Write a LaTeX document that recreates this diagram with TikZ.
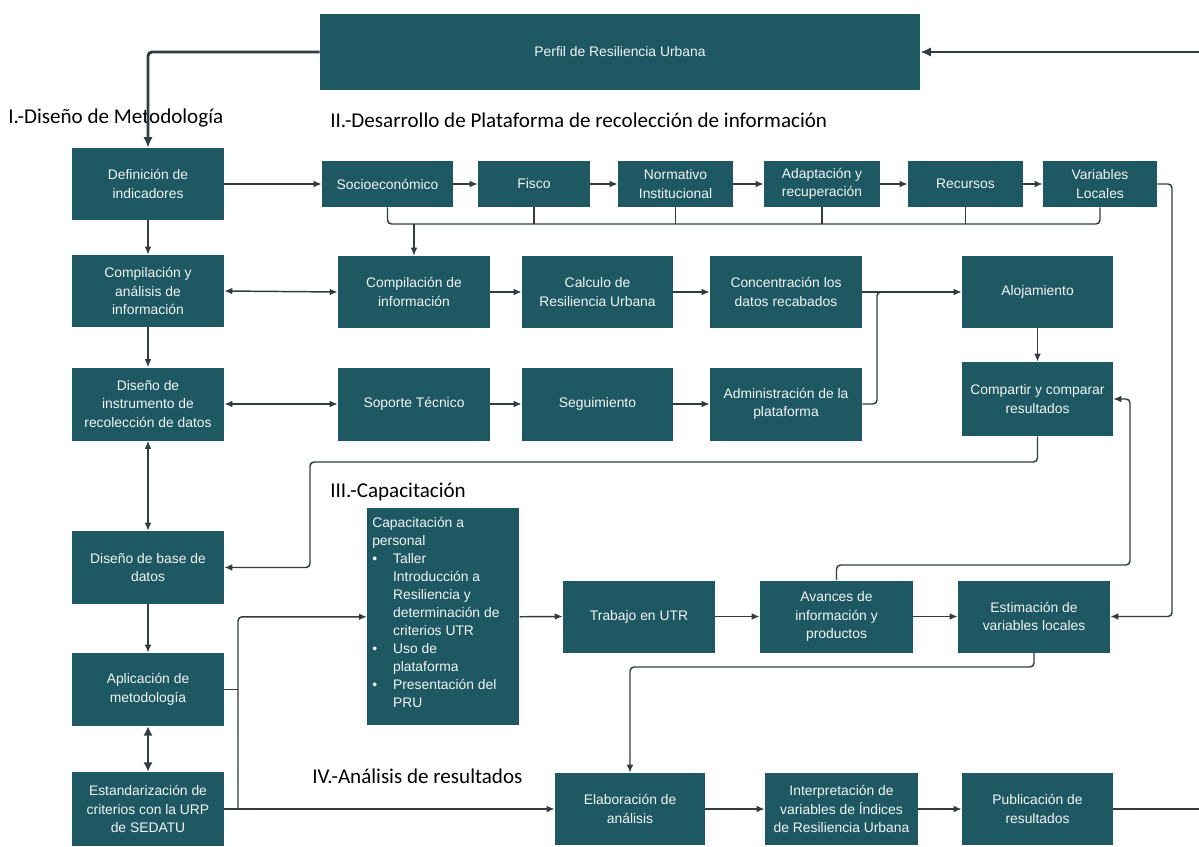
\documentclass[tikz,border=0pt]{standalone}
\usepackage{fontspec}
\setmainfont{Liberation Sans}
\newfontfamily\headfont{Carlito}
\usetikzlibrary{arrows.meta}
\definecolor{teal1}{RGB}{30,88,98}
\definecolor{lnc}{RGB}{48,60,64}
\newcommand\B[6]{\node[bx, minimum width=#4*0.75pt, minimum height=#5*0.75pt] (#1) at (#2,#3) {#6};}
\begin{document}
\begin{tikzpicture}[x=0.75pt,y=-0.75pt,
  bx/.style={fill=teal1, text=white!94!teal1, inner sep=1pt, align=center, font=\fontsize{10.4}{13.8}\selectfont},
  conn/.style={draw=lnc, line width=1.1pt, rounded corners=3pt},
  arr/.style={conn, -{Latex[length=6pt,width=5pt]}},
  dbl/.style={conn, {Latex[length=6pt,width=5pt]}-{Latex[length=6pt,width=5pt]}},
  thk/.style={draw=lnc, line width=2.2pt},
  thkarr/.style={thk, -{Latex[length=8pt,width=7pt]}},
  head/.style={font=\headfont\fontsize{15.8}{18}\selectfont, anchor=west, inner sep=0pt}]
\useasboundingbox (0,0) rectangle (1199,846);

% headings
\node[head] (h1) at (8,118) {I.-Diseño de Metodología};
\node[head] (h2) at (330,120) {II.-Desarrollo de Plataforma de recolección de información};
\node[head] (h3) at (330,492) {III.-Capacitación};
\node[head] (h4) at (312,776) {IV.-Análisis de resultados};

% top
\B{perfil}{620}{52}{600}{76}{Perfil de Resiliencia Urbana}

% left column
\B{def}{148}{184}{152}{72}{Definición de\\indicadores}
\B{comp1}{148}{291}{152}{72}{Compilación y\\análisis de\\información}
\B{dinst}{148}{404}{152}{73}{Diseño de\\instrumento de\\recolección de datos}
\B{dbase}{148}{567.5}{152}{73}{Diseño de base de\\datos}
\B{aplic}{148}{689.5}{152}{73}{Aplicación de\\metodología}
\B{estand}{148}{809}{152}{74}{Estandarización de\\criterios con la URP\\de SEDATU}

% row of categories
\B{socio}{387.5}{184}{131}{46}{Socioeconómico}
\B{fisco}{534}{184}{112}{46}{Fisco}
\B{norm}{675.5}{184}{115}{46}{Normativo\\Institucional}
\B{adapt}{822}{184}{116}{46}{Adaptación y\\recuperación}
\B{recur}{965.5}{184}{115}{46}{Recursos}
\B{varloc}{1100}{184}{114}{46}{Variables\\Locales}

% second row
\B{compinf}{414}{292}{152}{72}{Compilación de\\información}
\B{calc}{597.5}{292}{151}{72}{Calculo de\\Resiliencia Urbana}
\B{conc}{786}{292}{152}{72}{Concentración los\\datos recabados}
\B{aloj}{1037.5}{292}{151}{72}{Alojamiento}

% third row
\B{soporte}{414}{404}{152}{73}{Soporte Técnico}
\B{seguim}{597.5}{404}{151}{73}{Seguimiento}
\B{admin}{786}{404}{152}{73}{Administración de la\\plataforma}
\B{compartir}{1037.5}{399}{151}{74}{Compartir y comparar\\resultados}

% capacitacion row
\node[bx, minimum width=152*0.75pt, minimum height=217*0.75pt, anchor=north west, inner sep=0pt] (capac) at (367,508) {};
\node[text=white!94!teal1, anchor=north west, inner sep=0pt, font=\fontsize{10.4}{13.5}\selectfont] (capactext) at (372,515) {%
\renewcommand\arraystretch{1.0}%
\begin{tabular}{@{}l@{\hspace{12pt}}l@{}}
\multicolumn{2}{@{}l@{}}{Capacitación a}\\
\multicolumn{2}{@{}l@{}}{personal}\\
\textbullet & Taller\\
 & Introducción a\\
 & Resiliencia y\\
 & determinación de\\
 & criterios UTR\\
\textbullet & Uso de\\
 & plataforma\\
\textbullet & Presentación del\\
 & PRU
\end{tabular}};
\B{trabajo}{639}{616.5}{152}{72}{Trabajo en UTR}
\B{avances}{836.5}{616.5}{153}{72}{Avances de\\información y\\productos}
\B{estim}{1034}{616.5}{152}{72}{Estimación de\\variables locales}

% bottom row
\B{elab}{630}{809}{150}{72}{Elaboración de\\análisis}
\B{interp}{841.5}{809}{153}{72}{Interpretación de\\variables de Índices\\de Resiliencia Urbana}
\B{public}{1037.5}{809}{151}{72}{Publicación de\\resultados}

% helper coordinates
\coordinate (rin) at (1199,52);
\coordinate (rout) at (1199,809);
\coordinate (busL) at (388,224);
\coordinate (busR) at (1100,224);
\coordinate (jadm) at (877,292);
\coordinate (lp1) at (310,462);
\coordinate (lp2) at (1130,565);
\coordinate (lp3) at (1172,616.5);
\coordinate (lp4) at (630,667);
\coordinate (jx) at (238,809);

% thick loop
\draw[thkarr, rounded corners=3pt] (perfil.west) -| (def.north);
\draw[thkarr] (rin) -- (perfil.east);
\draw[thk] (public.east) -- (rout);

% left column
\draw[arr] (def.south) -- (comp1.north);
\draw[arr] (comp1.south) -- (dinst.north);
\draw[dbl] (dinst.south) -- (dbase.north);
\draw[arr] (dbase.south) -- (aplic.north);
\draw[conn, {Latex[length=7pt,width=7pt]}-{Latex[length=7pt,width=7pt]}, line width=1.6pt] (aplic.south) -- (estand.north);

% category row
\draw[arr] (def.east) -- (socio.west);
\draw[arr] (socio.east) -- (fisco.west);
\draw[arr] (fisco.east) -- (norm.west);
\draw[arr] (norm.east) -- (adapt.west);
\draw[arr] (adapt.east) -- (recur.west);
\draw[arr] (recur.east) -- (varloc.west);
\draw[conn] (socio.south) |- (busR) -- (varloc.south);
\draw[conn] (fisco.south) -- (fisco.south |- busL);
\draw[conn] (norm.south) -- (norm.south |- busL);
\draw[conn] (adapt.south) -- (adapt.south |- busL);
\draw[conn] (recur.south) -- (recur.south |- busL);
\draw[arr] (compinf.north |- busL) -- (compinf.north);

% second row
\draw[dbl] (comp1.east) -- (compinf.west);
\draw[arr] (compinf.east) -- (calc.west);
\draw[arr] (calc.east) -- (conc.west);
\draw[arr] (conc.east) -- (aloj.west);
\draw[conn] (admin.east) -| (jadm) -- ++(12,0);
\draw[arr] (aloj.south) -- (compartir.north);

% third row
\draw[dbl] (dinst.east) -- (soporte.west);
\draw[arr] (soporte.east) -- (seguim.west);
\draw[arr] (seguim.east) -- (admin.west);

% loops
\draw[arr] (compartir.south) |- (lp1) |- (dbase.east);
\draw[arr] (avances.north) |- (lp2) |- (compartir.east);
\draw[arr] (varloc.east) -| (lp3) -- (estim.east);
\draw[arr] (estim.south) |- (lp4) -- (elab.north);

% capacitacion
\draw[arr] (jx) |- (capac.west);
\draw[conn] (aplic.east) -- (aplic.east -| jx);
\draw[arr] (capac.east) -- (trabajo.west);
\draw[arr] (trabajo.east) -- (avances.west);
\draw[arr] (avances.east) -- (estim.west);

% bottom
\draw[arr] (estand.east) -- (elab.west);
\draw[arr] (elab.east) -- (interp.west);
\draw[arr] (interp.east) -- (public.west);
\end{tikzpicture}
\end{document}
